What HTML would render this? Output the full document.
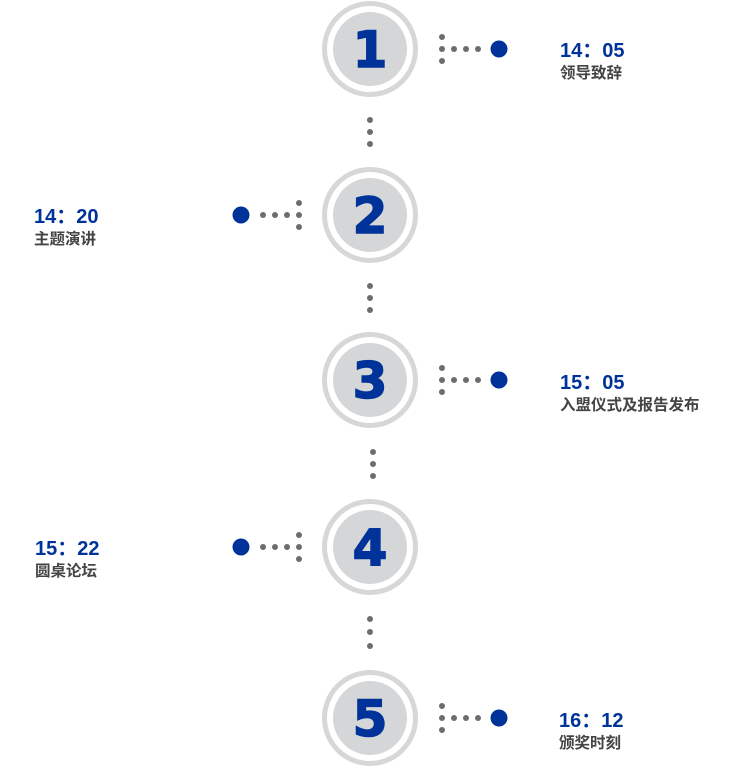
<!DOCTYPE html>
<html><head><meta charset="utf-8"><style>
html,body{margin:0;padding:0;background:#fff;width:750px;height:768px;overflow:hidden}
svg{display:block}
.n{font-family:"DejaVu Sans","Liberation Sans",sans-serif;font-weight:bold;font-size:50px;fill:#003399;stroke:#003399;stroke-width:1.5;text-anchor:middle}
.t{font-family:"Liberation Sans","Noto Sans CJK SC",sans-serif;font-weight:bold;font-size:20px;fill:#003399}
.l{font-family:"Liberation Sans","Noto Sans CJK SC",sans-serif;font-weight:bold;font-size:15.5px;fill:#444}
</style></head><body>
<svg width="750" height="768" viewBox="0 0 750 768">
<defs>
<g id="c"><circle r="45.5" fill="#fff" stroke="#d6d7d9" stroke-width="5"/><circle r="37" fill="#d5d6d8"/></g>
<g id="r" fill="#6d6d6d"><circle cx="442" cy="-12" r="3"/><circle cx="442" cy="0" r="3"/><circle cx="442" cy="12" r="3"/><circle cx="454" cy="0" r="3"/><circle cx="466" cy="0" r="3"/><circle cx="478" cy="0" r="3"/><circle cx="499" cy="0" r="8.5" fill="#003399"/></g>
<g id="lf" fill="#6d6d6d"><circle cx="299" cy="-12" r="3"/><circle cx="299" cy="0" r="3"/><circle cx="299" cy="12" r="3"/><circle cx="287" cy="0" r="3"/><circle cx="275" cy="0" r="3"/><circle cx="263" cy="0" r="3"/><circle cx="241" cy="0" r="8.5" fill="#003399"/></g>
</defs>
<g fill="#6d6d6d">
<circle cx="370" cy="120" r="3"/><circle cx="370" cy="132" r="3"/><circle cx="370" cy="144" r="3"/>
<circle cx="370" cy="286" r="3"/><circle cx="370" cy="298" r="3"/><circle cx="370" cy="310" r="3"/>
<circle cx="373" cy="452" r="3"/><circle cx="373" cy="464" r="3"/><circle cx="373" cy="476" r="3"/>
<circle cx="370" cy="619" r="3"/><circle cx="370" cy="632" r="3"/><circle cx="370" cy="646" r="3"/>
</g>
<g transform="translate(370,49)"><use href="#c"/><text class="n" y="18">1</text></g>
<g transform="translate(370,215)"><use href="#c"/><text class="n" y="18">2</text></g>
<g transform="translate(370,380)"><use href="#c"/><text class="n" y="18">3</text></g>
<g transform="translate(370,547)"><use href="#c"/><text class="n" y="18">4</text></g>
<g transform="translate(370,718)"><use href="#c"/><text class="n" y="18">5</text></g>
<use href="#r" y="49"/><use href="#lf" y="215"/><use href="#r" y="380"/><use href="#lf" y="547"/><use href="#r" y="718"/>
<text class="t" x="560" y="57">14：05</text><text class="l" x="560" y="78">领导致辞</text>
<text class="t" x="34" y="223">14：20</text><text class="l" x="34" y="244">主题演讲</text>
<text class="t" x="560" y="389">15：05</text><text class="l" x="560" y="410">入盟仪式及报告发布</text>
<text class="t" x="35" y="555">15：22</text><text class="l" x="35" y="576">圆桌论坛</text>
<text class="t" x="559" y="727">16：12</text><text class="l" x="559" y="748">颁奖时刻</text>
</svg>
</body></html>
